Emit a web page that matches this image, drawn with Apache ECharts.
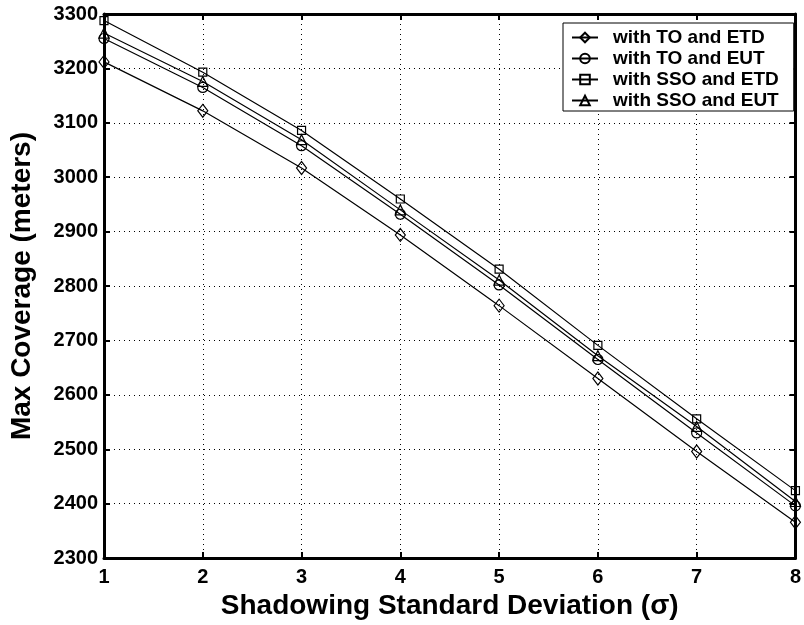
<!DOCTYPE html>
<html>
<head>
<meta charset="utf-8">
<script src="https://cdn.jsdelivr.net/npm/echarts@6/dist/echarts.min.js"></script>
<style>
  html, body { margin: 0; padding: 0; background: #fff; }
  #chart { width: 804px; height: 625px; }
</style>
</head>
<body>
<div id="chart"></div>
<script>
// shadowing standard deviation (sigma)
const sigma = [1, 2, 3, 4, 5, 6, 7, 8]

// max coverage in meters
const toEtd = [3212, 3122, 3017, 2894, 2764, 2630, 2496, 2366]
const toEut = [3255, 3165, 3058, 2932, 2802, 2665, 2530, 2396]
const ssoEtd = [3288, 3193, 3086, 2960, 2831, 2691, 2556, 2424]
const ssoEut = [3265, 3176, 3069, 2940, 2811, 2672, 2542, 2404]

const seriesNames = ['with TO and ETD', 'with TO and EUT', 'with SSO and ETD', 'with SSO and EUT']

const font = '"Liberation Sans", Arial, Helvetica, sans-serif'

const chart = echarts.init(document.getElementById('chart'))

const makeSeries = (name, values, symbol, size) => ({
  name,
  type: 'line',
  data: sigma.map((s, i) => [s, values[i]]),
  symbol,
  symbolSize: size,
  showAllSymbol: true,
  lineStyle: { color: '#000', width: 1.2 },
  itemStyle: { color: 'rgba(255,255,255,0)', borderColor: '#000', borderWidth: 1.2 },
  emphasis: { disabled: true },
  z: 3
})

const frameAxis = {
  axisLine: { show: true, lineStyle: { color: '#000', width: 3 } },
  axisTick: { show: true, inside: true, length: 6, lineStyle: { color: '#000', width: 2 } },
  axisLabel: { show: false },
  splitLine: { show: false }
}

chart.setOption({
  animation: false,
  backgroundColor: '#fff',
  grid: { left: 104, right: 7, top: 14, bottom: 65 },
  legend: {
    orient: 'vertical',
    left: 563,
    top: 23,
    padding: [5, 15, 1, 8],
    itemWidth: 26,
    itemHeight: 12,
    itemGap: 2,
    backgroundColor: '#fff',
    borderColor: '#000',
    borderWidth: 1,
    data: seriesNames,
    textStyle: { fontFamily: font, fontWeight: 'bold', fontSize: 19, lineHeight: 19, color: '#000', padding: [0, 0, 0, 10] }
  },
  xAxis: [
    {
      type: 'value',
      min: 1,
      max: 8,
      interval: 1,
      name: 'Shadowing Standard Deviation (σ)',
      nameLocation: 'middle',
      nameGap: 31,
      nameTextStyle: { fontFamily: font, fontWeight: 'bold', fontSize: 28, color: '#000' },
      axisLine: { show: true, lineStyle: { color: '#000', width: 3 } },
      axisTick: { show: true, inside: true, length: 6, lineStyle: { color: '#000', width: 2 } },
      axisLabel: { fontFamily: font, fontWeight: 'bold', fontSize: 20, color: '#000', margin: 9 },
      splitLine: { show: true, lineStyle: { color: '#000', width: 1, type: [1, 4] } }
    },
    { type: 'value', position: 'top', min: 1, max: 8, interval: 1, ...frameAxis }
  ],
  yAxis: [
    {
      type: 'value',
      min: 2300,
      max: 3300,
      interval: 100,
      name: 'Max Coverage (meters)',
      nameLocation: 'middle',
      nameGap: 68,
      nameTextStyle: { fontFamily: font, fontWeight: 'bold', fontSize: 28, color: '#000' },
      axisLine: { show: true, lineStyle: { color: '#000', width: 3 } },
      axisTick: { show: true, inside: true, length: 6, lineStyle: { color: '#000', width: 2 } },
      axisLabel: { fontFamily: font, fontWeight: 'bold', fontSize: 20, color: '#000', margin: 6, formatter: (v) => String(v) },
      splitLine: { show: true, lineStyle: { color: '#000', width: 1, type: [1, 4] } }
    },
    { type: 'value', position: 'right', min: 2300, max: 3300, interval: 100, ...frameAxis }
  ],
  series: [
    makeSeries(seriesNames[0], toEtd, 'diamond', [10, 13]),
    makeSeries(seriesNames[1], toEut, 'circle', 10),
    makeSeries(seriesNames[2], ssoEtd, 'rect', 8),
    makeSeries(seriesNames[3], ssoEut, 'triangle', 10)
  ]
})
</script>
</body>
</html>
